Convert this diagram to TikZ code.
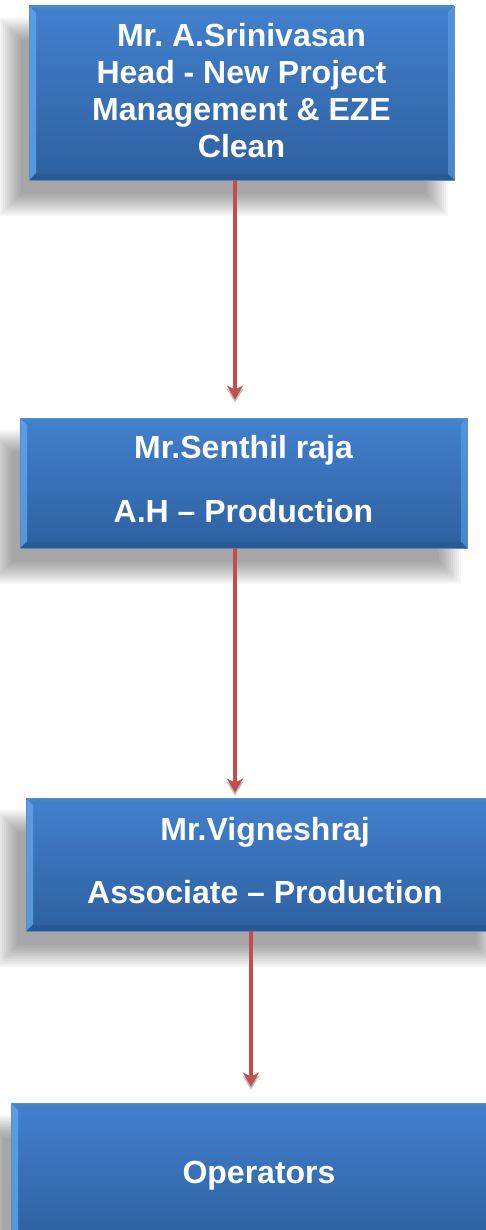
\documentclass[tikz,border=0pt]{standalone}
\usepackage{fontspec}
\setmainfont{Liberation Sans}
\usetikzlibrary{arrows.meta,calc}
\pgfdeclarelayer{bg}
\pgfsetlayers{bg,main}
\definecolor{boxtop}{RGB}{66,128,206}
\definecolor{boxbot}{RGB}{46,96,160}
\definecolor{bevlight}{RGB}{95,165,235}
\definecolor{bevdark}{RGB}{35,80,140}
\definecolor{bevtop}{RGB}{60,140,190}
\definecolor{boxedge}{RGB}{95,140,200}
\definecolor{arrred}{RGB}{192,80,77}
\newcommand\ppbb{path picture bounding box}
\frenchspacing
\tikzset{
  orgbox/.style={draw=boxedge, line width=0.8pt, top color=boxtop, bottom color=boxbot,
    text=white, font=\bfseries\fontsize{32}{37}\selectfont, align=center, inner sep=0pt,
    path picture={
      \fill[bevlight,opacity=0.8] (\ppbb.north west) -- ([xshift=7pt,yshift=-7pt]\ppbb.north west)
        -- ([xshift=7pt,yshift=7pt]\ppbb.south west) -- (\ppbb.south west) -- cycle;
      \fill[bevlight,opacity=0.55] (\ppbb.north east) -- ([xshift=-6pt,yshift=-6pt]\ppbb.north east)
        -- ([xshift=-6pt,yshift=6pt]\ppbb.south east) -- (\ppbb.south east) -- cycle;
      \fill[bevtop,opacity=0.5] (\ppbb.north west) -- ([xshift=7pt,yshift=-4pt]\ppbb.north west)
        -- ([xshift=-6pt,yshift=-4pt]\ppbb.north east) -- (\ppbb.north east) -- cycle;
      \fill[bevdark,opacity=0.45] (\ppbb.south west) -- ([xshift=7pt,yshift=6pt]\ppbb.south west)
        -- ([xshift=-6pt,yshift=6pt]\ppbb.south east) -- (\ppbb.south east) -- cycle;
    }},
  flow/.style={draw=arrred, line width=3.8pt, -{Stealth[length=14pt,width=16pt,inset=4pt]}},
  flowshade/.style={draw=gray!60, line width=3.8pt, opacity=0.8, -{Stealth[length=14pt,width=17pt,inset=4pt]}}
}
\newcommand\dropshade[1]{%
  \begin{pgfonlayer}{bg}
  \foreach \k in {0,...,11}{%
    \pgfmathsetmacro\e{(6-\k)*2}
    \fill[black,opacity=0.034]
      ([xshift={(-18-(\e))*1pt},yshift={(-24+(\e))*1pt}]#1.north west) rectangle
      ([xshift={(-18+(\e))*1pt},yshift={(-24-(\e))*1pt}]#1.south east);
  }
  \end{pgfonlayer}}
\begin{document}
\begin{tikzpicture}[x=1pt,y=-1pt]
\useasboundingbox (0,0) rectangle (486,1230);
\node[orgbox, minimum width=425pt, minimum height=174pt, text depth=5pt] (b1) at (241.5,93)
  {Mr. A.Srinivasan\\Head - New Project\\Management \& EZE\\Clean};
\node[orgbox, minimum width=447pt, minimum height=130pt, text depth=8pt] (b2) at (243.5,483)
  {Mr.Senthil raja\\[27pt]A.H -- Production};
\node[orgbox, minimum width=478pt, minimum height=133pt, text depth=9pt] (b3) at (265,864.5)
  {Mr.Vigneshraj\\[26pt]Associate -- Production};
\node[orgbox, minimum width=496pt, minimum height=138pt, text depth=0pt] (b4) at (259,1172)
  {Operators};
\dropshade{b1}
\dropshade{b2}
\dropshade{b3}
\dropshade{b4}
\coordinate (xa) at (235,0);
\coordinate (xb) at (251,0);
\draw[flowshade] (b1.south -| xa) -- ([yshift=15pt]b2.north -| xa);
\draw[flow] (b1.south -| xa) -- ([yshift=18pt]b2.north -| xa);
\draw[flowshade] (b2.south -| xa) -- ([yshift=2pt]b3.north -| xa);
\draw[flow] (b2.south -| xa) -- ([yshift=5pt]b3.north -| xa);
\draw[flowshade] (b3.south -| xb) -- ([yshift=13pt]b4.north -| xb);
\draw[flow] (b3.south -| xb) -- ([yshift=16pt]b4.north -| xb);
\end{tikzpicture}
\end{document}
